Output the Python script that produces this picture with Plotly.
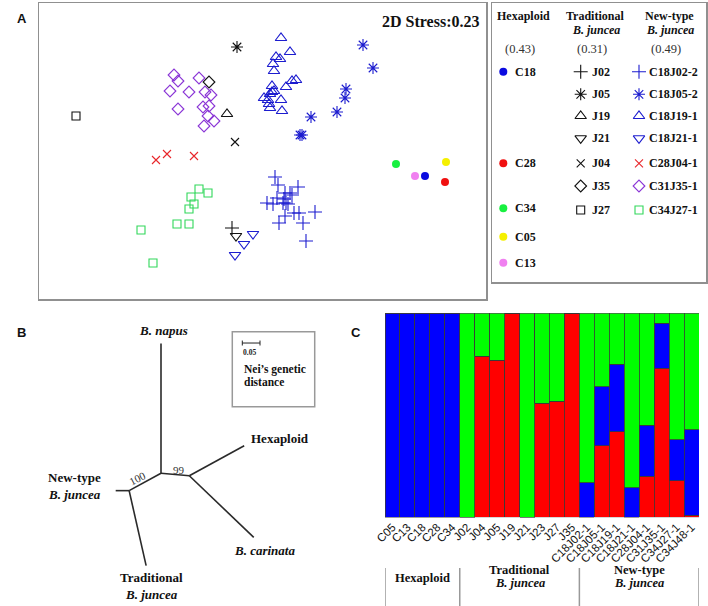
import plotly.graph_objects as go

# ---------------- Panel A : NMDS ----------------
hex_names = ["C18", "C28", "C34", "C05", "C13"]
hex_x = [1.63, 1.83, 1.34, 1.84, 1.53]
hex_y = [-0.25, -0.31, -0.13, -0.11, -0.25]
hex_colors = ["#0a0ae0", "#f01010", "#18f040", "#f5f000", "#f080f0"]

trad_names = ["J02", "J05", "J19", "J21", "J04", "J35", "J27"]
trad_x = [-0.30, -0.25, -0.35, -0.26, -0.27, -0.53, -1.86]
trad_y = [-0.77, 1.04, 0.37, -0.85, 0.09, 0.69, 0.35]

new_names = ["C18J02-2", "C18J05-2", "C18J19-1", "C18J21-1", "C28J04-1", "C31J35-1", "C34J27-1"]
c18j02_x = [0.13, 0.16, 0.36, 0.23, 0.28, 0.30, 0.15, 0.22, 0.05, 0.11, 0.21, 0.24, 0.26, 0.53, 0.32, 0.37, 0.23, 0.17, 0.41, 0.44]
c18j02_y = [-0.26, -0.34, -0.36, -0.42, -0.42, -0.44, -0.47, -0.48, -0.52, -0.53, -0.52, -0.52, -0.53, -0.61, -0.62, -0.62, -0.65, -0.72, -0.72, -0.90]
c18j05_x = [1.01, 1.11, 0.84, 0.83, 0.75, 0.49, 0.38, 0.40]
c18j05_y = [1.06, 0.83, 0.62, 0.53, 0.39, 0.34, 0.16, 0.16]
c18j19_x = [0.19, 0.28, 0.14, 0.18, 0.11, 0.12, 0.30, 0.34, 0.24, 0.10, 0.10, 0.08, 0.02, 0.06, 0.19, 0.07, 0.08, 0.20, 0.12]
c18j19_y = [1.13, 0.99, 0.94, 0.92, 0.87, 0.80, 0.70, 0.71, 0.64, 0.65, 0.59, 0.57, 0.53, 0.51, 0.51, 0.47, 0.43, 0.40, 0.60]
c18j21_x = [-0.09, -0.18, -0.27]
c18j21_y = [-0.83, -0.93, -1.04]
c28j04_x = [-1.06, -0.95, -0.68]
c28j04_y = [-0.09, -0.03, -0.05]
c31j35_x = [-0.88, -0.84, -0.63, -0.92, -0.73, -0.57, -0.51, -0.84, -0.59, -0.53, -0.54, -0.48, -0.58]
c31j35_y = [0.76, 0.70, 0.73, 0.60, 0.59, 0.59, 0.56, 0.42, 0.44, 0.45, 0.35, 0.30, 0.25]
c34j27_x = [-0.63, -0.54, -0.71, -0.68, -0.73, -0.85, -0.73, -1.21, -1.09]
c34j27_y = [-0.38, -0.42, -0.46, -0.53, -0.58, -0.73, -0.73, -0.79, -1.12]

group_values = ["(0.43)", "(0.31)", "(0.49)"]
stress_text = "2D Stress:0.23"

# ---------------- Panel B : tree ----------------
node_names = ["root", "B. napus", "R", "Hexaploid", "B. carinata", "L", "New-type", "Traditional"]
node_x = [0.0, 0.0, 0.080, 0.235, 0.262, -0.090, -0.128, -0.042]
node_y = [0.0, 0.367, -0.007, 0.078, -0.181, -0.049, -0.049, -0.261]
edges = [("root", "B. napus"), ("root", "R"), ("R", "Hexaploid"), ("R", "B. carinata"),
         ("root", "L"), ("L", "New-type"), ("L", "Traditional")]
bootstrap = {"100": (-0.065, -0.0133, -27), "99": (0.050, 0.0085, 0)}
scale_len = 0.05

# ---------------- Panel C : structure ----------------
samples = ["C05", "C13", "C18", "C28", "C34", "J02", "J04", "J05", "J19", "J21", "J23", "J27", "J35",
           "C18J02-1", "C18J05-1", "C18J19-1", "C18J21-1", "C28J04-1", "C31J35-1", "C34J27-1", "C34J48-1"]
red_q = [0, 0, 0, 0, 0, 0, 0.79, 0.77, 1.0, 0, 0.56, 0.57, 1.0, 0, 0.35, 0.42, 0, 0.20, 0.73, 0.18, 0.01]
blue_q = [1, 1, 1, 1, 1, 0, 0, 0, 0, 0, 0, 0, 0, 0.17, 0.29, 0.33, 0.145, 0.25, 0.22, 0.20, 0.42]
green_q = [0, 0, 0, 0, 0, 1.0, 0.21, 0.23, 0, 1.0, 0.44, 0.43, 0, 0.83, 0.36, 0.25, 0.855, 0.55, 0.05, 0.62, 0.57]

SERIF = "Liberation Serif"
SANS = "Liberation Sans"
W, H = 708, 606

def px(x):
    return x / W

def py(y):
    return 1 - y / H

fig = go.Figure()

BLUE = "#1c1ccf"
RED_X = "#e8262a"
PURPLE = "#8a35d6"
GREEN_SQ = "#30d85a"

new_series = [
    (c18j02_x, c18j02_y, "cross-thin-open", BLUE, 10),
    (c18j05_x, c18j05_y, "asterisk-open", BLUE, 10),
    (c18j19_x, c18j19_y, "triangle-up-open", BLUE, 10),
    (c18j21_x, c18j21_y, "triangle-down-open", BLUE, 10),
    (c28j04_x, c28j04_y, "x-thin-open", RED_X, 8),
    (c31j35_x, c31j35_y, "diamond-open", PURPLE, 9),
    (c34j27_x, c34j27_y, "square-open", GREEN_SQ, 8),
]
trad_symbols = ["cross-thin-open", "asterisk-open", "triangle-up-open", "triangle-down-open",
                "x-thin-open", "diamond-open", "square-open"]
trad_sizes = [10, 10, 10, 10, 8, 9, 8]

for (xs, ys, sym, col, sz), nm in zip(new_series, new_names):
    fig.add_trace(go.Scatter(x=xs, y=ys, mode="markers", name=nm, xaxis="x", yaxis="y",
                             marker=dict(symbol=sym, color=col, size=sz, line=dict(color=col, width=1.1))))
for i, nm in enumerate(trad_names):
    fig.add_trace(go.Scatter(x=[trad_x[i]], y=[trad_y[i]], mode="markers", name=nm, xaxis="x", yaxis="y",
                             marker=dict(symbol=trad_symbols[i], color="#111", size=trad_sizes[i],
                                         line=dict(color="#111", width=1.1))))
fig.add_trace(go.Scatter(x=hex_x, y=hex_y, mode="markers", xaxis="x", yaxis="y",
                         marker=dict(symbol="circle", color=hex_colors, size=8)))

annotations = []
annotations.append(dict(x=1.68, y=1.30, xref="x", yref="y", text="<b>" + stress_text + "</b>",
                        showarrow=False, font=dict(family=SERIF, size=16, color="#111")))

# ---- Legend box (own axes, pixel-like units) ----
rows_y = [71.7, 94.3, 116, 138.3, 163.3, 186, 210]
hex_rows = [71.7, 163.3, 208.3, 236.7, 262.7]
col_mark = [503.3, 580.7, 639]
col_text = [513.3, 590, 647.3]
fig.add_trace(go.Scatter(x=[col_mark[0]] * 5, y=hex_rows, mode="markers", xaxis="x4", yaxis="y4",
                         marker=dict(symbol="circle", color=hex_colors, size=8)))
for i in range(7):
    fig.add_trace(go.Scatter(x=[col_mark[1]], y=[rows_y[i]], mode="markers", xaxis="x4", yaxis="y4",
                             marker=dict(symbol=trad_symbols[i], color="#111", size=trad_sizes[i],
                                         line=dict(color="#111", width=1.1))))
    xs, ys, sym, col, sz = new_series[i]
    fig.add_trace(go.Scatter(x=[col_mark[2]], y=[rows_y[i]], mode="markers", xaxis="x4", yaxis="y4",
                             marker=dict(symbol=sym, color=col, size=sz, line=dict(color=col, width=1.1))))

lf = dict(family=SERIF, size=12, color="#111")
for nm, yy in zip(hex_names, hex_rows):
    annotations.append(dict(x=col_text[0], y=yy, xref="x4", yref="y4", text="<b>" + nm + "</b>",
                            xanchor="left", showarrow=False, font=lf))
for i in range(7):
    annotations.append(dict(x=col_text[1], y=rows_y[i], xref="x4", yref="y4", text="<b>" + trad_names[i] + "</b>",
                            xanchor="left", showarrow=False, font=lf))
    annotations.append(dict(x=col_text[2], y=rows_y[i], xref="x4", yref="y4", text="<b>" + new_names[i] + "</b>",
                            xanchor="left", showarrow=False, font=lf))
annotations.append(dict(x=523, y=15.7, xref="x4", yref="y4", text="<b>Hexaploid</b>", showarrow=False, font=lf))
annotations.append(dict(x=595, y=15.7, xref="x4", yref="y4", text="<b>Traditional</b>", showarrow=False, font=lf))
annotations.append(dict(x=596, y=29.5, xref="x4", yref="y4", text="<b><i>B. juncea</i></b>", showarrow=False, font=lf))
annotations.append(dict(x=669, y=15.7, xref="x4", yref="y4", text="<b>New-type</b>", showarrow=False, font=lf))
annotations.append(dict(x=670, y=29.5, xref="x4", yref="y4", text="<b><i>B. juncea</i></b>", showarrow=False, font=lf))
for xx, t in zip([520, 592, 666], group_values):
    annotations.append(dict(x=xx, y=49.3, xref="x4", yref="y4", text=t, showarrow=False,
                            font=dict(family=SERIF, size=12.5, color="#333")))

# ---------------- Panel B traces ----------------
idx = {n: i for i, n in enumerate(node_names)}
ex, ey = [], []
for a, b in edges:
    ex += [node_x[idx[a]], node_x[idx[b]], None]
    ey += [node_y[idx[a]], node_y[idx[b]], None]
fig.add_trace(go.Scatter(x=ex, y=ey, mode="lines", xaxis="x5", yaxis="y5",
                         line=dict(color="#2a2a2a", width=1.6)))
sb_x0, sb_y = 0.2297, 0.368
fig.add_trace(go.Scatter(x=[sb_x0, sb_x0 + scale_len, None, sb_x0, sb_x0, None, sb_x0 + scale_len, sb_x0 + scale_len],
                         y=[sb_y, sb_y, None, sb_y - 0.007, sb_y + 0.007, None, sb_y - 0.007, sb_y + 0.007],
                         mode="lines", xaxis="x5", yaxis="y5", line=dict(color="#222", width=1)))

tf = dict(family=SERIF, size=13, color="#111")
tree_labels = [
    (0.006, 0.402, "<b><i>B. napus</i></b>"),
    (0.336, 0.0997, "<b>Hexaploid</b>"),
    (0.2915, -0.2167, "<b><i>B. carinata</i></b>"),
    (-0.245, -0.0124, "<b>New-type</b>"),
    (-0.245, -0.0585, "<b><i>B. juncea</i></b>"),
    (-0.028, -0.294, "<b>Traditional</b>"),
    (-0.028, -0.341, "<b><i>B. juncea</i></b>"),
]
for xx, yy, t in tree_labels:
    annotations.append(dict(x=xx, y=yy, xref="x5", yref="y5", text=t, showarrow=False, font=tf))
for t, (xx, yy, ang) in bootstrap.items():
    annotations.append(dict(x=xx, y=yy, xref="x5", yref="y5", text=t, textangle=ang, showarrow=False,
                            font=dict(family=SERIF, size=11, color="#333")))
annotations.append(dict(x=0.2506, y=0.3407, xref="x5", yref="y5", text="<b>0.05</b>", showarrow=False,
                        font=dict(family=SERIF, size=7.5, color="#222")))
annotations.append(dict(x=0.2297, y=0.2946, xref="x5", yref="y5", text="<b>Nei’s genetic</b>", xanchor="left",
                        showarrow=False, font=dict(family=SERIF, size=11.5, color="#111")))
annotations.append(dict(x=0.2297, y=0.2579, xref="x5", yref="y5", text="<b>distance</b>", xanchor="left",
                        showarrow=False, font=dict(family=SERIF, size=11.5, color="#111")))

# ---------------- Panel C traces ----------------
for vals, col in [(red_q, "#ff0000"), (blue_q, "#0000ff"), (green_q, "#00ff00")]:
    fig.add_trace(go.Bar(x=samples, y=vals, xaxis="x3", yaxis="y3",
                         marker=dict(color=col, line=dict(color="#3a3a3a", width=0.8))))

gf = dict(family=SERIF, size=12.5, color="#111")
annotations.append(dict(x=2, y=py(587.3), xref="x3", yref="paper", text="<b>Hexaploid</b>", showarrow=False, font=gf))
annotations.append(dict(x=8.5, y=py(579.3), xref="x3", yref="paper", text="<b>Traditional</b>", showarrow=False, font=gf))
annotations.append(dict(x=8.5, y=py(592), xref="x3", yref="paper", text="<b><i>B. juncea</i></b>", showarrow=False, font=gf))
annotations.append(dict(x=16.5, y=py(579.3), xref="x3", yref="paper", text="<b>New-type</b>", showarrow=False, font=gf))
annotations.append(dict(x=16.5, y=py(592), xref="x3", yref="paper", text="<b><i>B. juncea</i></b>", showarrow=False, font=gf))

# Panel letters
for t, xx, yy in [("A", 14.7, 9.2), ("B", 15, 332), ("C", 356.3, 332)]:
    annotations.append(dict(x=px(xx), y=py(yy), xref="paper", yref="paper", text="<b>" + t + "</b>",
                            showarrow=False, font=dict(family=SANS, size=13, color="#111")))

shapes = []
for xx in [-0.5, 4.5, 12.5, 20.5]:
    shapes.append(dict(type="line", xref="x3", yref="paper", x0=xx, x1=xx, y0=0, y1=py(568),
                       line=dict(color="#999", width=1.5)))
shapes.append(dict(type="rect", xref="x5", yref="y5", x0=0.2014, x1=0.4342, y0=0.1881, y1=0.4000,
                   line=dict(color="#999", width=1.5)))

hidden = dict(showticklabels=False, showgrid=False, zeroline=False, ticks="")
boxed = dict(showline=True, mirror=True, linecolor="#909090", linewidth=1.5)

fig.update_layout(
    width=W, height=H, margin=dict(l=0, r=0, t=0, b=0, autoexpand=False),
    paper_bgcolor="white", plot_bgcolor="white", showlegend=False,
    barmode="stack", bargap=0, hovermode=False,
    xaxis=dict(domain=[px(39), px(486)], range=[-2.23, 2.24], **hidden, **boxed),
    yaxis=dict(domain=[py(299), py(3)], range=[-1.48, 1.48], **hidden, **boxed),
    xaxis4=dict(domain=[px(492), px(706)], range=[492, 706], anchor="y4", **hidden, **boxed),
    yaxis4=dict(domain=[py(282), py(3)], range=[282, 3], anchor="x4", **hidden, **boxed),
    xaxis5=dict(domain=[0, px(354)], range=[-0.4548, 0.5452], anchor="y5", **hidden),
    yaxis5=dict(domain=[0, py(310)], range=[-0.3749, 0.4613], anchor="x5", **hidden),
    xaxis3=dict(domain=[px(385), px(699)], range=[-0.5, 20.5], anchor="y3", type="category",
                tickangle=-45, ticks="", showgrid=False, zeroline=False, showline=False, automargin=False,
                tickfont=dict(family=SANS, size=11.5, color="#111")),
    yaxis3=dict(domain=[py(517.3), py(313.3)], range=[0, 1], anchor="x3", **hidden),
    annotations=annotations, shapes=shapes,
)

fig.write_html("out.html", config={"displayModeBar": False, "staticPlot": True},
               post_script="document.body.style.margin='0';document.body.style.overflow='hidden';")
